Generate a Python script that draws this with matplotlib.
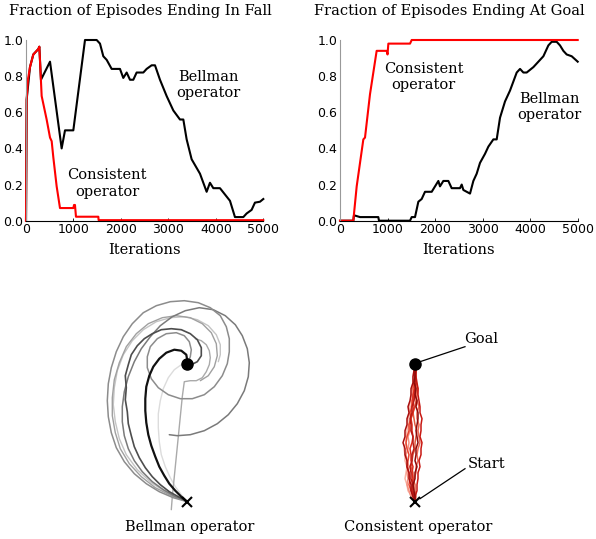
import matplotlib
matplotlib.use("Agg")
import matplotlib.pyplot as plt

# ---- top panels: fraction of episodes ----
fall_bell_x = [0, 14, 84, 154, 260, 281, 306, 315, 506, 751, 822, 997, 1243, 1489, 1559, 1629,
               1700, 1805, 1980, 2050, 2121, 2191, 2261, 2331, 2472, 2542, 2647, 2718, 2823, 2963,
               3104, 3244, 3315, 3385, 3490, 3666, 3806, 3876, 3947, 4087, 4298, 4403, 4579,
               4649, 4754, 4824, 4930, 5000]
fall_bell_y = [0.0, 0.67, 0.85, 0.92, 0.95, 0.963, 0.83, 0.78, 0.88, 0.40, 0.50, 0.50, 1.0, 1.0,
               0.98, 0.91, 0.89, 0.84, 0.84, 0.79, 0.82, 0.78, 0.78, 0.82, 0.82, 0.84, 0.86, 0.86,
               0.78, 0.69, 0.61, 0.56, 0.56, 0.45, 0.34, 0.26, 0.16, 0.21, 0.18, 0.18, 0.11, 0.02,
               0.02, 0.04, 0.06, 0.10, 0.105, 0.12]
fall_cons_x = [0, 14, 40, 84, 154, 260, 281, 330, 435, 506, 541, 576, 646, 716, 997, 1012,
               1032, 1053, 1524, 1530, 5000]
fall_cons_y = [0.0, 0.67, 0.78, 0.85, 0.92, 0.95, 0.963, 0.69, 0.56, 0.46, 0.44, 0.35, 0.19,
               0.07, 0.07, 0.087, 0.087, 0.022, 0.022, 0.003, 0.003]

goal_cons_x = [0, 280, 351, 421, 491, 526, 631, 771, 982, 1000, 1017, 1473, 1508, 5000]
goal_cons_y = [0.0, 0.0, 0.19, 0.32, 0.45, 0.46, 0.70, 0.94, 0.94, 0.92, 0.98, 0.98, 1.0, 1.0]
goal_bell_x = [0, 280, 294, 421, 806, 820, 1473, 1508, 1578, 1648, 1718, 1788, 1929, 1999,
               2069, 2103, 2174, 2279, 2349, 2524, 2560, 2595, 2665, 2735, 2805, 2875, 2945,
               3050, 3121, 3226, 3296, 3366, 3471, 3576, 3717, 3787, 3857, 3927, 4068, 4173,
               4278, 4383, 4453, 4558, 4628, 4698, 4768, 4874, 5000]
goal_bell_y = [0.0, 0.0, 0.03, 0.02, 0.02, 0.0, 0.0, 0.02, 0.02, 0.105, 0.12, 0.16, 0.16,
               0.19, 0.22, 0.19, 0.22, 0.22, 0.18, 0.18, 0.20, 0.17, 0.16, 0.15, 0.22, 0.26,
               0.32, 0.37, 0.41, 0.45, 0.45, 0.57, 0.66, 0.72, 0.82, 0.84, 0.82, 0.82, 0.85,
               0.88, 0.91, 0.97, 0.99, 0.99, 0.97, 0.94, 0.92, 0.91, 0.88]

x_ticks = [0, 1000, 2000, 3000, 4000, 5000]
y_ticks = [0.0, 0.2, 0.4, 0.6, 0.8, 1.0]

# ---- bottom panels: trajectories, offsets from the start (y up), goal at (0, 138) ----
goal_pt = (0, 138)
bell_paths = [
    ("#dcdcdc", 1.0, [(0, 0), (-6, 7), (-12, 15), (-17, 24), (-22, 35), (-26, 47), (-28, 60),
                      (-29, 74), (-29, 88), (-27, 101), (-24, 113), (-19, 124), (-13, 132),
                      (-6, 137), (0, 139)]),
    ("#aaaaaa", 1.0, [(-16, -8), (-15, 5), (-13, 25), (-11, 45), (-9, 65), (-7, 85), (-5, 105),
                      (-3, 120), (3, 121), (9, 121), (15, 124), (19, 130), (22, 137), (23, 144),
                      (22, 151), (19, 157), (14, 161), (8, 163)]),
    ("#c4c4c4", 1.0, [(0, 0), (-19, 8), (-36, 19), (-50, 32), (-61, 47), (-68, 63), (-72, 80),
                      (-74, 97), (-73, 114), (-70, 131), (-64, 147), (-55, 161), (-44, 172),
                      (-31, 180), (-17, 184), (-3, 185), (10, 182), (21, 176), (29, 167),
                      (33, 157), (33, 147), (31, 140)]),
    ("#a0a0a0", 1.0, [(0, 0), (-16, 6), (-32, 14), (-46, 25), (-58, 38), (-67, 53), (-72, 69),
                      (-75, 86), (-75, 104), (-73, 122), (-68, 139), (-61, 155), (-51, 168),
                      (-39, 178), (-25, 184), (-11, 186), (3, 184), (15, 178), (24, 169),
                      (29, 158), (30, 146), (27, 135), (21, 126), (13, 121)]),
    ("#7a7a7a", 1.1, [(0, 0), (-12, 5), (-24, 12), (-35, 20), (-45, 30), (-53, 41), (-59, 53),
                      (-63, 66), (-65, 80), (-65, 95), (-63, 110), (-59, 125), (-53, 140),
                      (-46, 153), (-37, 165), (-27, 176), (-15, 185), (-2, 191), (12, 194),
                      (26, 192), (38, 186), (48, 177), (55, 166), (60, 153), (62, 139), (61, 125),
                      (57, 111), (50, 98), (41, 87), (30, 78), (17, 71), (3, 67), (-10, 66),
                      (-18, 67)]),
    ("#8c8c8c", 1.1, [(0, 0), (-14, 4), (-28, 10), (-41, 18), (-53, 28), (-63, 40), (-71, 54),
                      (-76, 69), (-79, 85), (-80, 101), (-79, 118), (-76, 134), (-71, 150),
                      (-64, 165), (-55, 178), (-44, 189), (-31, 196), (-17, 200), (-3, 201),
                      (11, 199), (23, 194), (33, 186), (39, 175), (42, 163), (42, 150), (40, 138),
                      (35, 126), (27, 115), (17, 107), (5, 103), (-7, 103), (-19, 107), (-29, 114),
                      (-36, 123), (-40, 134), (-40, 145), (-37, 155), (-30, 163), (-21, 168),
                      (-11, 169), (-3, 166), (2, 160), (4, 152), (3, 145), (1, 140)]),
    ("#4d4d4d", 1.2, [(0, 0), (-9, 5), (-18, 10), (-27, 17), (-35, 25), (-42, 34), (-48, 44),
                      (-53, 55), (-56, 66), (-59, 78), (-60, 90), (-62, 102), (-61, 114),
                      (-62, 126), (-59, 137), (-56, 147), (-50, 156), (-43, 163), (-35, 168),
                      (-26, 172), (-16, 173), (-6, 172), (3, 168), (10, 162), (14, 154),
                      (14, 146), (10, 140), (4, 137), (0, 138)]),
    ("#111111", 1.6, [(0, 0), (-6, 5), (-12, 11), (-18, 18), (-23, 26), (-28, 35), (-32, 45),
                      (-36, 56), (-39, 67), (-41, 79), (-42, 91), (-42, 103), (-41, 115),
                      (-38, 126), (-34, 135), (-28, 143), (-21, 149), (-13, 152), (-6, 151),
                      (-1, 147), (0, 141)]),
]

red_dy = [0, 5, 11, 17, 23, 29, 35, 41, 47, 53, 59, 65, 71, 77, 83, 89, 95, 101, 107, 113,
          119, 125, 131, 138]
red_paths = [
    ("#f9b4a4", [0, -3, -7, -8, -10, -9, -8, -10, -10, -11, -9, -9, -8, -7, -7, -5, -6, -4, -4,
                 -3, -2, -2, -1, 0]),
    ("#f59080", [0, -4, -6, -8, -7, -8, -6, -8, -9, -7, -6, -7, -5, -6, -4, -3, -4, -2, -3, -1,
                 -1, 0, -1, 0]),
    ("#e05a40", [0, 1, 0, 0, -2, -2, -4, -3, -2, 0, 0, 1, 2, 0, -1, -2, 0, 1, 2, 3, 1, 0, 1, 0]),
    ("#f06a55", [0, -1, -3, -2, -1, 1, 1, 3, 2, 3, 5, 4, 3, 4, 2, 2, 4, 2, 1, 2, 0, 0, 0, 0]),
    ("#e8452f", [0, -2, -4, -6, -5, -6, -8, -7, -6, -8, -9, -8, -6, -6, -4, -5, -3, -3, -1, -2,
                 -1, 0, 0, 0]),
    ("#dd2a1c", [0, -1, -3, -3, -2, -3, -2, -4, -4, -5, -3, -2, -3, -3, -4, -2, -1, -2, -2, 0,
                 0, 1, 0, 0]),
    ("#c81812", [0, 0, 2, 2, 3, 3, 5, 4, 6, 6, 7, 5, 6, 6, 7, 5, 5, 4, 3, 3, 2, 1, 1, 0]),
    ("#b81a14", [0, -1, -2, -2, -4, -4, -5, -3, -3, -1, -2, -2, -4, -4, -5, -3, -3, -1, 0, 0, 1,
                 0, 1, 0]),
    ("#a80e0e", [0, -2, -4, -4, -6, -6, -8, -8, -10, -10, -12, -10, -10, -8, -8, -6, -7, -5, -4,
                 -4, -2, -2, -1, 0]),
    ("#8c0a0a", [0, 0, -1, -2, 0, 0, 2, 0, 1, 1, 3, 2, 1, 2, 3, 3, 1, 2, 0, 1, -1, 0, 0, 0]),
]

serif = "DejaVu Serif"
plt.rcParams["font.size"] = 9

W, H = 596, 539
fig = plt.figure(figsize=(W / 100, H / 100), dpi=100)


def style_top(ax):
    ax.set_xlim(0, 5000)
    ax.set_ylim(0, 1.0)
    ax.set_xticks(x_ticks)
    ax.set_yticks(y_ticks)
    ax.set_yticklabels(["%.1f" % v for v in y_ticks])
    ax.spines["top"].set_visible(False)
    ax.spines["right"].set_visible(False)
    ax.spines["left"].set_color("#999999")
    ax.spines["left"].set_linewidth(0.8)
    ax.spines["bottom"].set_linewidth(0.8)
    ax.tick_params(direction="in", length=2, width=0.6, pad=1.5, labelsize=9)
    ax.tick_params(axis="y", length=0, pad=2)
    ax.set_xlabel("Iterations", family=serif, fontsize=10.5, labelpad=5)


ax1 = fig.add_axes([26 / W, 1 - 220.7 / H, 237.3 / W, 180.7 / H])
ax1.plot(fall_bell_x, fall_bell_y, color="black", lw=1.5, clip_on=False)
ax1.plot(fall_cons_x, fall_cons_y, color="red", lw=1.5, clip_on=False)
style_top(ax1)
ax1.text(3850, 0.751, "Bellman\noperator", family=serif, fontsize=10.5, ha="center", va="center")
ax1.text(1707, 0.206, "Consistent\noperator", family=serif, fontsize=10.5, ha="center", va="center")
fig.text(140.5 / W, 1 - 11 / H, "Fraction of Episodes Ending In Fall", family=serif,
         fontsize=10.5, ha="center", va="center")

ax2 = fig.add_axes([340 / W, 1 - 220.7 / H, 237.7 / W, 180.7 / H])
ax2.plot(goal_bell_x, goal_bell_y, color="black", lw=1.5, clip_on=False)
ax2.plot(goal_cons_x, goal_cons_y, color="red", lw=1.5, clip_on=False)
style_top(ax2)
ax2.text(1761, 0.797, "Consistent\noperator", family=serif, fontsize=10.5, ha="center", va="center")
ax2.text(4396, 0.629, "Bellman\noperator", family=serif, fontsize=10.5, ha="center", va="center")
fig.text(449.5 / W, 1 - 11 / H, "Fraction of Episodes Ending At Goal", family=serif,
         fontsize=10.5, ha="center", va="center")


def traj_axes(sx, sy, left, right, top, bottom):
    # one data unit == one pixel, start point at (0, 0)
    ax = fig.add_axes([left / W, 1 - bottom / H, (right - left) / W, (bottom - top) / H])
    ax.set_xlim(left - sx, right - sx)
    ax.set_ylim(sy - bottom, sy - top)
    ax.axis("off")
    return ax


ax3 = traj_axes(187.3, 501.7, 80, 300, 270, 515)
for col, lw, pts in bell_paths:
    ax3.plot([p[0] for p in pts], [p[1] for p in pts], color=col, lw=lw,
             solid_capstyle="round", solid_joinstyle="round")
ax3.plot(*goal_pt, "o", color="black", ms=8)
ax3.plot(0, 0, "x", color="black", ms=7, mew=1.5)
fig.text(190 / W, 1 - 526.7 / H, "Bellman operator", family=serif, fontsize=10.5,
         ha="center", va="center")

ax4 = traj_axes(415, 501.7, 320, 540, 270, 515)
for col, dxs in red_paths:
    ax4.plot(dxs, red_dy, color=col, lw=1.1, solid_joinstyle="round")
ax4.plot(*goal_pt, "o", color="black", ms=8)
ax4.plot(0, 0, "x", color="black", ms=7, mew=1.5)
ax4.plot([5, 50], [140, 155], color="black", lw=0.9)
ax4.plot([5, 50], [3, 33], color="black", lw=0.9)
ax4.text(49, 163, "Goal", family=serif, fontsize=10.5, ha="left", va="center")
ax4.text(53, 38, "Start", family=serif, fontsize=10.5, ha="left", va="center")
fig.text(418 / W, 1 - 526.7 / H, "Consistent operator", family=serif, fontsize=10.5,
         ha="center", va="center")

fig.savefig("out.png", dpi=100)
